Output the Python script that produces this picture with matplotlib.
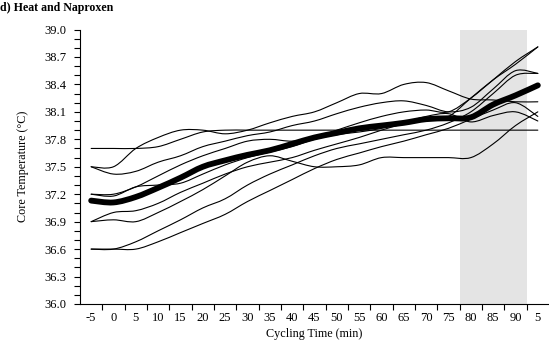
import numpy as np
import matplotlib
matplotlib.use("Agg")
import matplotlib.pyplot as plt
from matplotlib.path import Path
from matplotlib.patches import PathPatch
from matplotlib.ticker import MultipleLocator, FormatStrFormatter

times = [-5, 0, 5, 10, 15, 20, 25, 30, 35, 40, 45, 50, 55, 60, 65, 70, 75, 80, 85, 90, 95]
tick_labels = ["-5", "0", "5", "10", "15", "20", "25", "30", "35", "40", "45", "50",
               "55", "60", "65", "70", "75", "80", "85", "90", "5"]

subj_a = [37.70, 37.70, 37.70, 37.72, 37.80, 37.88, 37.90, 37.90, 37.90, 37.90, 37.90,
          37.90, 37.90, 37.90, 37.90, 37.90, 37.90, 37.90, 37.90, 37.90, 37.90]
subj_b = [37.50, 37.50, 37.70, 37.82, 37.90, 37.90, 37.86, 37.90, 37.98, 38.05, 38.10,
          38.20, 38.30, 38.30, 38.40, 38.42, 38.33, 38.24, 38.23, 38.21, 38.21]
subj_c = [37.50, 37.42, 37.45, 37.55, 37.62, 37.72, 37.78, 37.84, 37.88, 37.95, 38.00,
          38.08, 38.15, 38.20, 38.22, 38.17, 38.10, 38.15, 38.35, 38.55, 38.52]
subj_d = [37.20, 37.20, 37.28, 37.40, 37.52, 37.62, 37.70, 37.78, 37.80, 37.78, 37.82,
          37.90, 37.98, 38.05, 38.10, 38.12, 38.10, 38.25, 38.45, 38.65, 38.81]
subj_e = [37.20, 37.18, 37.28, 37.30, 37.32, 37.42, 37.52, 37.60, 37.66, 37.72, 37.80,
          37.85, 37.88, 37.92, 37.98, 38.05, 38.08, 37.99, 38.06, 38.10, 38.00]
subj_f = [36.90, 37.00, 37.02, 37.10, 37.22, 37.32, 37.42, 37.50, 37.55, 37.60, 37.68,
          37.75, 37.82, 37.90, 37.97, 38.02, 38.05, 38.25, 38.45, 38.62, 38.81]
subj_g = [36.90, 36.92, 36.90, 37.00, 37.12, 37.25, 37.40, 37.55, 37.62, 37.56, 37.50,
          37.50, 37.52, 37.60, 37.60, 37.60, 37.60, 37.60, 37.75, 37.95, 38.10]
subj_h = [36.60, 36.60, 36.68, 36.80, 36.92, 37.05, 37.15, 37.30, 37.42, 37.52, 37.62,
          37.70, 37.75, 37.80, 37.85, 37.90, 37.98, 38.10, 38.30, 38.50, 38.52]
subj_i = [36.60, 36.60, 36.60, 36.68, 36.78, 36.88, 36.98, 37.12, 37.24, 37.36, 37.48,
          37.58, 37.65, 37.72, 37.78, 37.85, 37.92, 38.02, 38.12, 38.20, 38.05]
mean_temp = [37.13, 37.11, 37.17, 37.27, 37.38, 37.50, 37.57, 37.63, 37.68, 37.75, 37.82,
             37.87, 37.92, 37.95, 37.98, 38.02, 38.03, 38.04, 38.18, 38.28, 38.39]

subjects = [subj_a, subj_b, subj_c, subj_d, subj_e, subj_f, subj_g, subj_h, subj_i]
shade_start, shade_end = 77.5, 92.5

plt.rcParams['font.family'] = ['Liberation Serif', 'DejaVu Serif']


def smooth_path(x, y):
    x = np.asarray(x, float)
    y = np.asarray(y, float)
    pts = np.column_stack([x, y])
    n = len(pts)
    verts = [pts[0]]
    codes = [Path.MOVETO]
    for i in range(n - 1):
        p0 = pts[i - 1] if i > 0 else pts[i]
        p1 = pts[i]
        p2 = pts[i + 1]
        p3 = pts[i + 2] if i + 2 < n else pts[i + 1]
        c1 = p1 + (p2 - p0) / 6.0
        c2 = p2 - (p3 - p1) / 6.0
        verts += [c1, c2, p2]
        codes += [Path.CURVE4] * 3
    return Path(verts, codes)


fig = plt.figure(figsize=(5.49, 3.46), dpi=100)
ax = fig.add_axes([0.1457, 0.1214, 0.8543, 0.7933])

ax.axvspan(shade_start, shade_end, color='#e4e4e4', lw=0, zorder=0)

for s in subjects:
    ax.add_patch(PathPatch(smooth_path(times, s), fill=False, edgecolor='black',
                           lw=0.8, zorder=2, capstyle='round', joinstyle='round'))
ax.add_patch(PathPatch(smooth_path(times, mean_temp), fill=False, edgecolor='black',
                       lw=4.2, zorder=3, capstyle='round', joinstyle='round'))

ax.set_xlim(-7.5, 97.5)
ax.set_ylim(36.0, 39.0)

ax.spines['top'].set_visible(False)
ax.spines['right'].set_visible(False)
ax.spines['left'].set_linewidth(0.8)
ax.spines['bottom'].set_linewidth(0.8)

ax.set_xticks(times)
ax.set_xticklabels(tick_labels)
ax.set_xticks([t + 2.5 for t in times[:-1]], minor=True)
ax.tick_params(axis='x', which='major', length=0, pad=6, labelsize=9)
ax.tick_params(axis='x', which='minor', length=4, width=0.8, direction='out')

ax.yaxis.set_major_locator(MultipleLocator(0.3))
ax.yaxis.set_minor_locator(MultipleLocator(0.1))
ax.yaxis.set_major_formatter(FormatStrFormatter('%.1f'))
ax.tick_params(axis='y', which='major', length=4, width=0.8, direction='out', pad=6, labelsize=9)
ax.tick_params(axis='y', which='minor', length=4, width=0.8, direction='out')

ax.set_xlabel('Cycling Time (min)', fontsize=8.7, labelpad=3)
ax.set_ylabel('Core Temperature (°C)', fontsize=8.7, labelpad=11)

fig.text(0.0, 0.995, 'd) Heat and Naproxen', fontsize=8.6, fontweight='bold',
         ha='left', va='top')

fig.savefig('out.png', dpi=100)
